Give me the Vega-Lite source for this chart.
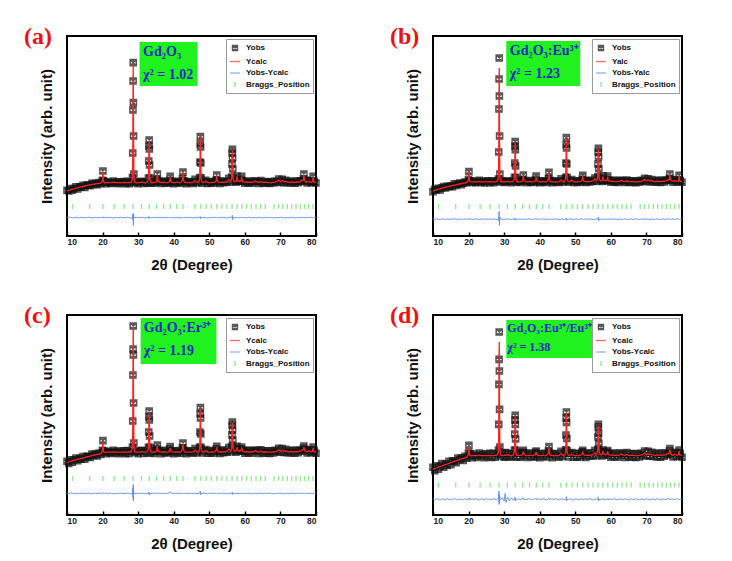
{
"$schema": "https://vega.github.io/schema/vega-lite/v6.json",
"background": "white",
"padding": {"left": 23, "top": 24, "right": 51, "bottom": 5},
"columns": 2,
"bounds": "flush",
"spacing": {"row": 79, "column": 117},
"resolve": {"scale": {"color": "independent", "shape": "independent"}, "legend": {"color": "independent", "shape": "independent"}},
"datasets": {
"bragg": [{"x":11.57},{"x":16.38},{"x":20.1},{"x":23.25},{"x":26.04},{"x":28.57},{"x":30.92},{"x":33.11},{"x":35.19},{"x":37.15},{"x":39.04},{"x":40.85},{"x":42.6},{"x":45.93},{"x":47.53},{"x":49.09},{"x":50.61},{"x":52.1},{"x":53.55},{"x":54.98},{"x":56.4},{"x":57.78},{"x":59.15},{"x":60.49},{"x":61.82},{"x":63.13},{"x":64.42},{"x":65.7},{"x":68.23},{"x":69.47},{"x":70.71},{"x":71.94},{"x":73.16},{"x":74.37},{"x":75.57},{"x":76.77},{"x":77.96},{"x":79.15}],
"a": [
{"x":10,"obs":22.9,"calc":22.5,"diff":9.3},{"x":10.5,"obs":22.5,"calc":22.8,"diff":9.1},{"x":11,"obs":23.7,"calc":23.1,"diff":9.4},{"x":11.5,"obs":22.9,"calc":23.4,"diff":9.2},{"x":12,"obs":23.7,"calc":23.6,"diff":9.0},{"x":12.5,"obs":24.6,"calc":23.9,"diff":9.3},{"x":13,"obs":23.5,"calc":24.1,"diff":9.2},{"x":13.5,"obs":24.6,"calc":24.4,"diff":9.1},{"x":14,"obs":24.4,"calc":24.6,"diff":9.4},{"x":14.5,"obs":25.3,"calc":24.8,"diff":9.1},{"x":15,"obs":24.3,"calc":25.0,"diff":9.3},{"x":15.5,"obs":25.5,"calc":25.2,"diff":9.1},{"x":16,"obs":25.4,"calc":25.4,"diff":9.4},{"x":16.5,"obs":25.2,"calc":25.6,"diff":9.2},{"x":17,"obs":26.4,"calc":25.8,"diff":9.0},{"x":17.5,"obs":25.8,"calc":25.9,"diff":9.3},{"x":18,"obs":26.4,"calc":26.1,"diff":9.2},{"x":18.5,"obs":25.6,"calc":26.2,"diff":9.1},{"x":19,"obs":26.7,"calc":26.3,"diff":9.4},{"x":19.5,"obs":26.2,"calc":26.4,"diff":9.1},
{"x":19.95,"obs":27.8,"calc":27.5,"diff":9.3},{"x":20.1,"obs":32.5,"calc":32.0,"diff":9.6},{"x":20.25,"obs":27.6,"calc":27.3,"diff":9.0},{"x":20.5,"obs":27.2,"calc":26.6,"diff":9.2},{"x":21,"obs":26.2,"calc":26.7,"diff":9.3},{"x":21.5,"obs":27.0,"calc":26.7,"diff":9.1},{"x":22,"obs":26.7,"calc":26.7,"diff":9.4},{"x":22.5,"obs":26.3,"calc":26.7,"diff":9.2},{"x":23,"obs":27.5,"calc":26.9,"diff":9.0},{"x":23.5,"obs":26.6,"calc":26.7,"diff":9.3},{"x":24,"obs":27.0,"calc":26.7,"diff":9.2},{"x":24.5,"obs":26.1,"calc":26.7,"diff":9.1},{"x":25,"obs":27.1,"calc":26.7,"diff":9.4},{"x":25.5,"obs":26.5,"calc":26.7,"diff":9.1},{"x":26,"obs":27.2,"calc":26.8,"diff":9.3},{"x":26.5,"obs":26.1,"calc":26.7,"diff":9.1},{"x":27,"obs":27.3,"calc":26.7,"diff":9.4},{"x":27.5,"obs":26.2,"calc":26.7,"diff":9.2},{"x":28,"obs":26.9,"calc":26.8,"diff":9.0},
{"x":28.4,"obs":29.2,"calc":28.5,"diff":8.8},{"x":28.48,"obs":41.5,"calc":40.0,"diff":10.5},{"x":28.54,"obs":63.0,"calc":62.0,"diff":11.3},{"x":28.58,"obs":77.5,"calc":78.0,"diff":8.0},{"x":28.62,"obs":86.7,"calc":86.5,"diff":9.5},{"x":28.66,"obs":66.7,"calc":70.0,"diff":5.3},{"x":28.72,"obs":50.0,"calc":48.0,"diff":10.8},{"x":28.8,"obs":31.0,"calc":30.0,"diff":9.6},
{"x":29,"obs":26.7,"calc":26.9,"diff":9.1},{"x":29.5,"obs":27.1,"calc":26.7,"diff":9.3},{"x":30,"obs":26.1,"calc":26.7,"diff":9.2},{"x":30.5,"obs":27.0,"calc":26.7,"diff":9.1},{"x":31,"obs":27.4,"calc":27.0,"diff":9.4},{"x":31.5,"obs":26.3,"calc":26.7,"diff":9.2},{"x":32,"obs":27.1,"calc":26.7,"diff":9.0},{"x":32.5,"obs":26.4,"calc":26.8,"diff":9.3},
{"x":32.9,"obs":29.0,"calc":28.5,"diff":9.0},{"x":32.98,"obs":37.5,"calc":36.0,"diff":9.8},{"x":33.05,"obs":45.0,"calc":44.0,"diff":9.6},{"x":33.1,"obs":48.0,"calc":47.5,"diff":9.4},{"x":33.15,"obs":43.5,"calc":44.5,"diff":8.8},{"x":33.22,"obs":35.5,"calc":36.0,"diff":9.0},{"x":33.3,"obs":29.0,"calc":28.5,"diff":9.3},
{"x":33.5,"obs":26.4,"calc":26.9,"diff":9.1},{"x":34,"obs":27.3,"calc":26.7,"diff":9.2},{"x":34.5,"obs":26.4,"calc":26.8,"diff":9.4},{"x":35,"obs":27.1,"calc":26.9,"diff":9.1},{"x":35.25,"obs":28.4,"calc":27.8,"diff":9.3},{"x":35.4,"obs":31.0,"calc":30.8,"diff":9.2},{"x":35.55,"obs":27.3,"calc":27.8,"diff":9.1},{"x":36,"obs":27.2,"calc":26.8,"diff":9.4},{"x":36.5,"obs":26.3,"calc":26.7,"diff":9.1},{"x":37,"obs":27.5,"calc":26.9,"diff":9.3},{"x":37.5,"obs":26.5,"calc":26.8,"diff":9.2},{"x":38,"obs":27.1,"calc":26.7,"diff":9.1},{"x":38.5,"obs":26.4,"calc":26.8,"diff":9.3},{"x":38.85,"obs":27.9,"calc":27.4,"diff":9.2},{"x":39,"obs":29.8,"calc":29.5,"diff":9.4},{"x":39.15,"obs":27.0,"calc":27.4,"diff":9.1},{"x":39.5,"obs":27.3,"calc":26.8,"diff":9.2},{"x":40,"obs":26.1,"calc":26.7,"diff":9.3},{"x":40.5,"obs":27.1,"calc":26.7,"diff":9.1},{"x":41,"obs":26.6,"calc":26.9,"diff":9.4},{"x":41.5,"obs":27.3,"calc":26.7,"diff":9.2},{"x":42,"obs":26.4,"calc":26.8,"diff":9.0},{"x":42.45,"obs":28.6,"calc":28.0,"diff":9.3},{"x":42.6,"obs":32.0,"calc":31.8,"diff":9.4},{"x":42.75,"obs":27.6,"calc":28.0,"diff":9.1},{"x":43,"obs":27.3,"calc":26.9,"diff":9.2},{"x":43.5,"obs":26.2,"calc":26.7,"diff":9.3},{"x":44,"obs":27.2,"calc":26.7,"diff":9.1},{"x":44.5,"obs":26.6,"calc":26.7,"diff":9.4},{"x":45,"obs":27.1,"calc":26.7,"diff":9.2},{"x":45.5,"obs":26.3,"calc":26.8,"diff":9.0},{"x":46,"obs":28.3,"calc":27.8,"diff":9.3},{"x":46.5,"obs":26.6,"calc":26.8,"diff":9.2},{"x":47,"obs":27.3,"calc":26.9,"diff":9.1},
{"x":47.3,"obs":29.2,"calc":28.5,"diff":9.3},{"x":47.38,"obs":37.0,"calc":36.0,"diff":9.6},{"x":47.45,"obs":46.0,"calc":45.0,"diff":9.8},{"x":47.5,"obs":49.7,"calc":49.5,"diff":9.6},{"x":47.55,"obs":44.5,"calc":45.5,"diff":8.7},{"x":47.62,"obs":36.5,"calc":37.0,"diff":9.0},{"x":47.7,"obs":29.0,"calc":28.5,"diff":9.2},
{"x":48,"obs":26.4,"calc":26.9,"diff":9.1},{"x":48.5,"obs":27.3,"calc":26.8,"diff":9.4},{"x":49,"obs":27.8,"calc":27.5,"diff":9.2},{"x":49.5,"obs":26.3,"calc":26.8,"diff":9.0},{"x":50,"obs":27.1,"calc":26.7,"diff":9.3},{"x":50.5,"obs":26.4,"calc":26.7,"diff":9.2},{"x":51,"obs":27.2,"calc":26.8,"diff":9.1},{"x":51.5,"obs":26.5,"calc":26.9,"diff":9.4},{"x":51.95,"obs":28.0,"calc":27.6,"diff":9.2},{"x":52.1,"obs":30.5,"calc":30.3,"diff":9.3},{"x":52.25,"obs":27.3,"calc":27.6,"diff":9.1},{"x":52.5,"obs":27.4,"calc":26.9,"diff":9.2},{"x":53,"obs":26.3,"calc":26.8,"diff":9.3},{"x":53.5,"obs":27.3,"calc":26.9,"diff":9.1},{"x":54,"obs":26.6,"calc":26.8,"diff":9.4},{"x":54.5,"obs":27.5,"calc":27.0,"diff":9.2},{"x":55,"obs":26.9,"calc":27.2,"diff":9.0},{"x":55.5,"obs":28.8,"calc":28.3,"diff":9.3},{"x":56,"obs":27.0,"calc":27.3,"diff":9.2},
{"x":56.3,"obs":29.5,"calc":28.8,"diff":9.4},{"x":56.38,"obs":36.0,"calc":35.0,"diff":9.8},{"x":56.45,"obs":41.5,"calc":40.5,"diff":9.9},{"x":56.5,"obs":43.3,"calc":43.0,"diff":10.3},{"x":56.55,"obs":39.0,"calc":40.0,"diff":8.2},{"x":56.62,"obs":33.5,"calc":34.0,"diff":8.8},{"x":56.7,"obs":28.8,"calc":28.5,"diff":9.2},
{"x":57,"obs":27.7,"calc":27.2,"diff":9.1},{"x":57.5,"obs":26.9,"calc":27.3,"diff":9.3},{"x":57.65,"obs":28.2,"calc":27.8,"diff":9.2},{"x":57.8,"obs":30.0,"calc":29.8,"diff":9.4},{"x":57.95,"obs":27.4,"calc":27.8,"diff":9.1},{"x":58.5,"obs":27.6,"calc":27.2,"diff":9.2},{"x":58.95,"obs":28.1,"calc":27.7,"diff":9.3},{"x":59.1,"obs":29.8,"calc":29.6,"diff":9.4},{"x":59.25,"obs":27.3,"calc":27.7,"diff":9.1},{"x":59.5,"obs":27.5,"calc":27.0,"diff":9.2},{"x":60,"obs":26.4,"calc":26.9,"diff":9.3},{"x":60.5,"obs":27.4,"calc":27.0,"diff":9.1},{"x":61,"obs":26.5,"calc":26.8,"diff":9.4},{"x":61.5,"obs":27.3,"calc":26.9,"diff":9.2},{"x":62,"obs":26.4,"calc":26.8,"diff":9.0},{"x":62.5,"obs":27.5,"calc":27.0,"diff":9.3},{"x":63,"obs":27.2,"calc":27.5,"diff":9.2},{"x":63.5,"obs":27.4,"calc":26.9,"diff":9.1},{"x":64,"obs":26.3,"calc":26.8,"diff":9.4},{"x":64.5,"obs":27.7,"calc":27.3,"diff":9.2},{"x":65,"obs":26.5,"calc":26.8,"diff":9.0},{"x":65.5,"obs":27.2,"calc":26.8,"diff":9.3},{"x":66,"obs":26.4,"calc":26.9,"diff":9.2},{"x":66.5,"obs":27.1,"calc":26.7,"diff":9.1},{"x":67,"obs":26.3,"calc":26.7,"diff":9.4},{"x":67.5,"obs":27.2,"calc":26.7,"diff":9.2},{"x":68,"obs":26.5,"calc":26.8,"diff":9.0},{"x":68.5,"obs":27.4,"calc":26.9,"diff":9.3},{"x":69,"obs":27.0,"calc":27.3,"diff":9.2},{"x":69.5,"obs":28.5,"calc":28.0,"diff":9.1},{"x":70,"obs":26.8,"calc":27.2,"diff":9.4},{"x":70.5,"obs":28.3,"calc":27.8,"diff":9.2},{"x":71,"obs":26.7,"calc":27.1,"diff":9.0},{"x":71.5,"obs":27.9,"calc":27.4,"diff":9.3},{"x":72,"obs":26.6,"calc":26.9,"diff":9.2},{"x":72.5,"obs":27.3,"calc":26.8,"diff":9.1},{"x":73,"obs":26.5,"calc":27.0,"diff":9.4},{"x":73.5,"obs":27.4,"calc":26.9,"diff":9.2},{"x":74,"obs":26.4,"calc":26.8,"diff":9.0},{"x":74.5,"obs":27.5,"calc":27.0,"diff":9.3},{"x":75,"obs":26.6,"calc":26.9,"diff":9.2},{"x":75.5,"obs":27.6,"calc":27.2,"diff":9.1},{"x":76,"obs":27.3,"calc":27.8,"diff":9.4},{"x":76.45,"obs":28.5,"calc":28.0,"diff":9.2},{"x":76.6,"obs":31.0,"calc":30.5,"diff":9.3},{"x":76.75,"obs":27.6,"calc":28.0,"diff":9.1},{"x":77,"obs":27.7,"calc":27.2,"diff":9.2},{"x":77.5,"obs":26.5,"calc":26.9,"diff":9.3},{"x":78,"obs":27.8,"calc":27.4,"diff":9.1},{"x":78.5,"obs":26.6,"calc":26.9,"diff":9.4},{"x":79,"obs":27.5,"calc":27.1,"diff":9.2},{"x":79.2,"obs":29.9,"calc":29.5,"diff":9.3},{"x":79.35,"obs":26.9,"calc":27.3,"diff":9.1},{"x":79.5,"obs":27.3,"calc":26.9,"diff":9.2},{"x":80,"obs":26.5,"calc":26.8,"diff":9.3}
],
"b": [
{"x":10,"obs":22.2,"calc":22.5,"diff":8.5},{"x":10.5,"obs":23.3,"calc":22.8,"diff":8.3},{"x":11,"obs":23.0,"calc":23.1,"diff":8.6},{"x":11.5,"obs":23.8,"calc":23.4,"diff":8.4},{"x":12,"obs":23.0,"calc":23.6,"diff":8.2},{"x":12.5,"obs":24.1,"calc":23.9,"diff":8.5},{"x":13,"obs":24.7,"calc":24.1,"diff":8.4},{"x":13.5,"obs":24.0,"calc":24.4,"diff":8.3},{"x":14,"obs":24.9,"calc":24.6,"diff":8.6},{"x":14.5,"obs":24.6,"calc":24.8,"diff":8.3},{"x":15,"obs":25.1,"calc":25.0,"diff":8.5},{"x":15.5,"obs":24.7,"calc":25.2,"diff":8.3},{"x":16,"obs":26.1,"calc":25.4,"diff":8.6},{"x":16.5,"obs":25.3,"calc":25.6,"diff":8.4},{"x":17,"obs":26.0,"calc":25.8,"diff":8.2},{"x":17.5,"obs":26.5,"calc":26.0,"diff":8.5},{"x":18,"obs":25.6,"calc":26.2,"diff":8.4},{"x":18.5,"obs":26.4,"calc":26.4,"diff":8.3},{"x":19,"obs":27.0,"calc":26.6,"diff":8.6},{"x":19.5,"obs":26.7,"calc":26.8,"diff":8.3},
{"x":19.95,"obs":28.1,"calc":27.9,"diff":8.5},{"x":20.1,"obs":32.2,"calc":31.8,"diff":8.8},{"x":20.25,"obs":27.5,"calc":27.7,"diff":8.2},{"x":20.5,"obs":27.6,"calc":27.1,"diff":8.4},{"x":21,"obs":26.8,"calc":27.1,"diff":8.5},{"x":21.5,"obs":27.5,"calc":27.1,"diff":8.3},{"x":22,"obs":26.6,"calc":27.1,"diff":8.6},{"x":22.5,"obs":27.2,"calc":27.1,"diff":8.4},{"x":23,"obs":27.8,"calc":27.3,"diff":8.2},{"x":23.5,"obs":26.8,"calc":27.1,"diff":8.5},{"x":24,"obs":27.4,"calc":27.1,"diff":8.4},{"x":24.5,"obs":26.5,"calc":27.1,"diff":8.3},{"x":25,"obs":27.3,"calc":27.1,"diff":8.6},{"x":25.5,"obs":27.6,"calc":27.1,"diff":8.3},{"x":26,"obs":26.7,"calc":27.2,"diff":8.5},{"x":26.5,"obs":27.5,"calc":27.1,"diff":8.3},{"x":27,"obs":26.6,"calc":27.1,"diff":8.6},{"x":27.5,"obs":27.3,"calc":27.1,"diff":8.4},{"x":28,"obs":27.6,"calc":27.2,"diff":8.2},
{"x":28.4,"obs":28.5,"calc":29.0,"diff":7.8},{"x":28.48,"obs":42.0,"calc":40.0,"diff":10.2},{"x":28.54,"obs":63.5,"calc":60.0,"diff":11.0},{"x":28.58,"obs":78.5,"calc":77.0,"diff":12.3},{"x":28.62,"obs":89.0,"calc":84.0,"diff":11.5},{"x":28.66,"obs":70.0,"calc":68.0,"diff":5.3},{"x":28.72,"obs":50.0,"calc":47.0,"diff":7.0},{"x":28.8,"obs":31.0,"calc":30.0,"diff":9.4},
{"x":29,"obs":27.0,"calc":27.3,"diff":8.6},{"x":29.5,"obs":27.6,"calc":27.1,"diff":8.3},{"x":30,"obs":26.8,"calc":27.1,"diff":8.5},{"x":30.5,"obs":27.4,"calc":27.1,"diff":8.3},{"x":31,"obs":27.1,"calc":27.4,"diff":8.6},{"x":31.5,"obs":27.5,"calc":27.1,"diff":8.4},{"x":32,"obs":26.7,"calc":27.1,"diff":8.2},{"x":32.5,"obs":27.6,"calc":27.2,"diff":8.5},
{"x":32.9,"obs":29.3,"calc":28.8,"diff":8.3},{"x":32.98,"obs":36.5,"calc":35.5,"diff":8.9},{"x":33.05,"obs":44.8,"calc":43.5,"diff":9.0},{"x":33.1,"obs":47.2,"calc":46.8,"diff":8.7},{"x":33.15,"obs":43.2,"calc":44.0,"diff":7.9},{"x":33.22,"obs":35.0,"calc":35.5,"diff":8.1},{"x":33.3,"obs":29.2,"calc":28.8,"diff":8.5},
{"x":33.5,"obs":26.9,"calc":27.3,"diff":8.3},{"x":34,"obs":27.5,"calc":27.1,"diff":8.5},{"x":34.5,"obs":26.8,"calc":27.2,"diff":8.4},{"x":35,"obs":27.7,"calc":27.3,"diff":8.2},{"x":35.25,"obs":28.3,"calc":28.0,"diff":8.5},{"x":35.4,"obs":30.5,"calc":30.0,"diff":8.6},{"x":35.55,"obs":27.6,"calc":28.0,"diff":8.3},{"x":36,"obs":27.5,"calc":27.2,"diff":8.5},{"x":36.5,"obs":26.7,"calc":27.1,"diff":8.3},{"x":37,"obs":27.7,"calc":27.3,"diff":8.6},{"x":37.5,"obs":26.9,"calc":27.2,"diff":8.4},{"x":38,"obs":27.5,"calc":27.1,"diff":8.2},{"x":38.5,"obs":26.8,"calc":27.2,"diff":8.5},{"x":38.85,"obs":28.2,"calc":27.8,"diff":8.4},{"x":39,"obs":30.0,"calc":29.5,"diff":8.7},{"x":39.15,"obs":27.4,"calc":27.8,"diff":8.2},{"x":39.5,"obs":27.6,"calc":27.2,"diff":8.4},{"x":40,"obs":26.7,"calc":27.1,"diff":8.5},{"x":40.5,"obs":27.5,"calc":27.1,"diff":8.3},{"x":41,"obs":26.9,"calc":27.3,"diff":8.6},{"x":41.5,"obs":27.6,"calc":27.1,"diff":8.4},{"x":42,"obs":26.8,"calc":27.2,"diff":8.2},{"x":42.45,"obs":28.7,"calc":28.3,"diff":8.5},{"x":42.6,"obs":31.8,"calc":31.5,"diff":8.7},{"x":42.75,"obs":27.9,"calc":28.3,"diff":8.2},{"x":43,"obs":27.7,"calc":27.3,"diff":8.4},{"x":43.5,"obs":26.6,"calc":27.1,"diff":8.5},{"x":44,"obs":27.5,"calc":27.1,"diff":8.3},{"x":44.5,"obs":27.0,"calc":27.1,"diff":8.6},{"x":45,"obs":27.5,"calc":27.1,"diff":8.4},{"x":45.5,"obs":26.8,"calc":27.2,"diff":8.2},{"x":46,"obs":28.6,"calc":28.1,"diff":8.5},{"x":46.5,"obs":27.0,"calc":27.2,"diff":8.4},{"x":47,"obs":27.7,"calc":27.3,"diff":8.3},
{"x":47.3,"obs":29.4,"calc":28.8,"diff":8.6},{"x":47.38,"obs":36.5,"calc":35.5,"diff":8.8},{"x":47.45,"obs":45.6,"calc":44.5,"diff":9.0},{"x":47.5,"obs":49.2,"calc":48.8,"diff":8.9},{"x":47.55,"obs":44.0,"calc":45.0,"diff":7.9},{"x":47.62,"obs":36.0,"calc":36.5,"diff":8.2},{"x":47.7,"obs":29.2,"calc":28.8,"diff":8.4},
{"x":48,"obs":26.9,"calc":27.3,"diff":8.3},{"x":48.5,"obs":27.6,"calc":27.2,"diff":8.6},{"x":49,"obs":28.2,"calc":27.9,"diff":8.4},{"x":49.5,"obs":26.8,"calc":27.2,"diff":8.2},{"x":50,"obs":27.5,"calc":27.1,"diff":8.5},{"x":50.5,"obs":26.8,"calc":27.1,"diff":8.4},{"x":51,"obs":27.6,"calc":27.2,"diff":8.3},{"x":51.5,"obs":26.9,"calc":27.3,"diff":8.6},{"x":51.95,"obs":28.3,"calc":27.9,"diff":8.4},{"x":52.1,"obs":30.4,"calc":30.0,"diff":8.5},{"x":52.25,"obs":27.6,"calc":27.9,"diff":8.3},{"x":52.5,"obs":27.7,"calc":27.3,"diff":8.4},{"x":53,"obs":26.8,"calc":27.2,"diff":8.5},{"x":53.5,"obs":27.7,"calc":27.3,"diff":8.3},{"x":54,"obs":27.0,"calc":27.2,"diff":8.6},{"x":54.5,"obs":27.8,"calc":27.4,"diff":8.4},{"x":55,"obs":27.3,"calc":27.6,"diff":8.2},{"x":55.5,"obs":29.0,"calc":28.6,"diff":8.5},{"x":56,"obs":27.4,"calc":27.7,"diff":8.4},
{"x":56.3,"obs":29.6,"calc":29.0,"diff":8.6},{"x":56.38,"obs":36.0,"calc":35.0,"diff":9.0},{"x":56.45,"obs":42.0,"calc":41.0,"diff":9.2},{"x":56.5,"obs":43.8,"calc":43.5,"diff":9.4},{"x":56.55,"obs":39.5,"calc":40.5,"diff":7.6},{"x":56.62,"obs":33.6,"calc":34.0,"diff":7.9},{"x":56.7,"obs":29.1,"calc":28.8,"diff":8.4},
{"x":57,"obs":28.0,"calc":27.6,"diff":8.3},{"x":57.5,"obs":27.3,"calc":27.6,"diff":8.5},{"x":57.65,"obs":28.5,"calc":28.1,"diff":8.4},{"x":57.8,"obs":30.1,"calc":29.8,"diff":8.6},{"x":57.95,"obs":27.7,"calc":28.1,"diff":8.3},{"x":58.5,"obs":27.9,"calc":27.5,"diff":8.4},{"x":58.95,"obs":28.4,"calc":28.0,"diff":8.5},{"x":59.1,"obs":30.0,"calc":29.6,"diff":8.6},{"x":59.25,"obs":27.6,"calc":28.0,"diff":8.3},{"x":59.5,"obs":27.8,"calc":27.4,"diff":8.4},{"x":60,"obs":26.9,"calc":27.3,"diff":8.5},{"x":60.5,"obs":27.8,"calc":27.4,"diff":8.3},{"x":61,"obs":26.9,"calc":27.2,"diff":8.6},{"x":61.5,"obs":27.7,"calc":27.3,"diff":8.4},{"x":62,"obs":26.8,"calc":27.2,"diff":8.2},{"x":62.5,"obs":27.8,"calc":27.4,"diff":8.5},{"x":63,"obs":27.5,"calc":27.8,"diff":8.4},{"x":63.5,"obs":27.7,"calc":27.3,"diff":8.3},{"x":64,"obs":26.8,"calc":27.2,"diff":8.6},{"x":64.5,"obs":28.0,"calc":27.6,"diff":8.4},{"x":65,"obs":26.9,"calc":27.2,"diff":8.2},{"x":65.5,"obs":27.6,"calc":27.2,"diff":8.5},{"x":66,"obs":26.8,"calc":27.3,"diff":8.4},{"x":66.5,"obs":27.5,"calc":27.1,"diff":8.3},{"x":67,"obs":26.7,"calc":27.1,"diff":8.6},{"x":67.5,"obs":27.6,"calc":27.1,"diff":8.4},{"x":68,"obs":26.9,"calc":27.2,"diff":8.2},{"x":68.5,"obs":27.8,"calc":27.3,"diff":8.5},{"x":69,"obs":27.4,"calc":27.7,"diff":8.4},{"x":69.5,"obs":28.8,"calc":28.3,"diff":8.3},{"x":70,"obs":27.2,"calc":27.6,"diff":8.6},{"x":70.5,"obs":28.6,"calc":28.1,"diff":8.4},{"x":71,"obs":27.1,"calc":27.5,"diff":8.2},{"x":71.5,"obs":28.2,"calc":27.8,"diff":8.5},{"x":72,"obs":27.0,"calc":27.3,"diff":8.4},{"x":72.5,"obs":27.7,"calc":27.2,"diff":8.3},{"x":73,"obs":26.9,"calc":27.4,"diff":8.6},{"x":73.5,"obs":27.8,"calc":27.3,"diff":8.4},{"x":74,"obs":26.8,"calc":27.2,"diff":8.2},{"x":74.5,"obs":27.9,"calc":27.4,"diff":8.5},{"x":75,"obs":27.0,"calc":27.3,"diff":8.4},{"x":75.5,"obs":28.0,"calc":27.6,"diff":8.3},{"x":76,"obs":27.7,"calc":28.1,"diff":8.6},{"x":76.45,"obs":28.8,"calc":28.3,"diff":8.4},{"x":76.6,"obs":31.0,"calc":30.6,"diff":8.6},{"x":76.75,"obs":27.9,"calc":28.3,"diff":8.3},{"x":77,"obs":28.0,"calc":27.6,"diff":8.4},{"x":77.5,"obs":26.9,"calc":27.3,"diff":8.5},{"x":78,"obs":28.2,"calc":27.8,"diff":8.3},{"x":78.5,"obs":27.0,"calc":27.3,"diff":8.6},{"x":79,"obs":27.9,"calc":27.5,"diff":8.4},{"x":79.2,"obs":30.3,"calc":30.0,"diff":8.5},{"x":79.35,"obs":27.3,"calc":27.7,"diff":8.3},{"x":79.5,"obs":27.7,"calc":27.3,"diff":8.4},{"x":80,"obs":26.9,"calc":27.2,"diff":8.5}
],
"c": [
{"x":10,"obs":26.9,"calc":26.2,"diff":10.9},{"x":10.5,"obs":25.8,"calc":26.5,"diff":10.7},{"x":11,"obs":27.6,"calc":26.8,"diff":11.0},{"x":11.5,"obs":26.4,"calc":27.1,"diff":10.8},{"x":12,"obs":27.6,"calc":27.4,"diff":10.6},{"x":12.5,"obs":28.5,"calc":27.6,"diff":10.9},{"x":13,"obs":27.1,"calc":27.9,"diff":10.8},{"x":13.5,"obs":28.4,"calc":28.1,"diff":10.7},{"x":14,"obs":27.9,"calc":28.3,"diff":11.0},{"x":14.5,"obs":29.2,"calc":28.5,"diff":10.7},{"x":15,"obs":27.9,"calc":28.7,"diff":10.9},{"x":15.5,"obs":29.4,"calc":29.0,"diff":10.7},{"x":16,"obs":29.2,"calc":29.2,"diff":11.0},{"x":16.5,"obs":28.8,"calc":29.4,"diff":10.8},{"x":17,"obs":30.5,"calc":29.7,"diff":10.6},{"x":17.5,"obs":29.8,"calc":29.9,"diff":10.9},{"x":18,"obs":30.5,"calc":30.1,"diff":10.8},{"x":18.5,"obs":29.5,"calc":30.3,"diff":10.7},{"x":19,"obs":31.0,"calc":30.5,"diff":11.0},{"x":19.5,"obs":30.3,"calc":30.6,"diff":10.7},
{"x":19.95,"obs":32.4,"calc":31.9,"diff":10.9},{"x":20.1,"obs":37.2,"calc":36.5,"diff":11.2},{"x":20.25,"obs":31.5,"calc":31.8,"diff":10.6},{"x":20.5,"obs":32.0,"calc":31.3,"diff":10.8},{"x":21,"obs":30.7,"calc":31.4,"diff":10.9},{"x":21.5,"obs":31.9,"calc":31.4,"diff":10.7},{"x":22,"obs":31.3,"calc":31.4,"diff":11.0},{"x":22.5,"obs":30.8,"calc":31.4,"diff":10.8},{"x":23,"obs":32.4,"calc":31.6,"diff":10.6},{"x":23.5,"obs":31.2,"calc":31.4,"diff":10.9},{"x":24,"obs":31.9,"calc":31.4,"diff":10.8},{"x":24.5,"obs":30.6,"calc":31.4,"diff":10.7},{"x":25,"obs":32.0,"calc":31.4,"diff":11.0},{"x":25.5,"obs":31.1,"calc":31.4,"diff":10.7},{"x":26,"obs":32.1,"calc":31.5,"diff":10.9},{"x":26.5,"obs":30.7,"calc":31.4,"diff":10.7},{"x":27,"obs":32.2,"calc":31.4,"diff":11.0},{"x":27.5,"obs":30.8,"calc":31.5,"diff":10.8},{"x":28,"obs":31.9,"calc":31.6,"diff":10.6},
{"x":28.4,"obs":34.0,"calc":33.5,"diff":10.4},{"x":28.48,"obs":47.0,"calc":45.0,"diff":12.2},{"x":28.54,"obs":70.0,"calc":68.0,"diff":13.5},{"x":28.58,"obs":83.0,"calc":85.0,"diff":8.6},{"x":28.62,"obs":94.5,"calc":94.0,"diff":15.3},{"x":28.66,"obs":80.0,"calc":77.0,"diff":7.0},{"x":28.72,"obs":56.0,"calc":54.0,"diff":12.0},{"x":28.8,"obs":36.0,"calc":35.0,"diff":11.2},
{"x":29,"obs":31.3,"calc":31.6,"diff":10.7},{"x":29.5,"obs":32.0,"calc":31.4,"diff":10.9},{"x":30,"obs":30.6,"calc":31.4,"diff":10.8},{"x":30.5,"obs":32.0,"calc":31.4,"diff":10.7},{"x":31,"obs":32.3,"calc":31.7,"diff":11.0},{"x":31.5,"obs":30.8,"calc":31.4,"diff":10.8},{"x":32,"obs":32.1,"calc":31.4,"diff":10.6},{"x":32.5,"obs":31.0,"calc":31.6,"diff":10.9},
{"x":32.9,"obs":33.9,"calc":33.2,"diff":10.6},{"x":32.98,"obs":41.5,"calc":40.0,"diff":11.5},{"x":33.05,"obs":49.0,"calc":48.0,"diff":11.3},{"x":33.1,"obs":52.0,"calc":51.0,"diff":11.4},{"x":33.15,"obs":47.5,"calc":48.5,"diff":10.1},{"x":33.22,"obs":39.5,"calc":40.0,"diff":10.4},{"x":33.3,"obs":33.8,"calc":33.2,"diff":10.9},
{"x":33.5,"obs":31.0,"calc":31.6,"diff":10.7},{"x":34,"obs":32.2,"calc":31.4,"diff":10.8},{"x":34.5,"obs":30.8,"calc":31.5,"diff":11.0},{"x":35,"obs":32.0,"calc":31.6,"diff":10.7},{"x":35.25,"obs":33.2,"calc":32.4,"diff":10.9},{"x":35.4,"obs":35.0,"calc":34.5,"diff":11.0},{"x":35.55,"obs":31.8,"calc":32.4,"diff":10.7},{"x":36,"obs":32.1,"calc":31.5,"diff":11.0},{"x":36.5,"obs":30.7,"calc":31.4,"diff":10.7},{"x":37,"obs":32.4,"calc":31.6,"diff":10.9},{"x":37.5,"obs":31.1,"calc":31.5,"diff":10.8},{"x":38,"obs":32.0,"calc":31.4,"diff":10.7},{"x":38.5,"obs":31.0,"calc":31.6,"diff":10.9},{"x":38.85,"obs":33.0,"calc":32.2,"diff":11.2},{"x":39,"obs":34.2,"calc":33.5,"diff":11.6},{"x":39.15,"obs":31.7,"calc":32.2,"diff":11.0},{"x":39.5,"obs":32.1,"calc":31.5,"diff":10.8},{"x":40,"obs":30.6,"calc":31.4,"diff":10.9},{"x":40.5,"obs":32.0,"calc":31.4,"diff":10.7},{"x":41,"obs":31.2,"calc":31.6,"diff":11.0},{"x":41.5,"obs":32.2,"calc":31.4,"diff":10.8},{"x":42,"obs":30.9,"calc":31.5,"diff":10.6},{"x":42.45,"obs":33.6,"calc":32.8,"diff":10.9},{"x":42.6,"obs":36.0,"calc":35.5,"diff":11.0},{"x":42.75,"obs":32.3,"calc":32.8,"diff":10.7},{"x":43,"obs":32.2,"calc":31.6,"diff":10.8},{"x":43.5,"obs":30.7,"calc":31.4,"diff":10.9},{"x":44,"obs":32.0,"calc":31.4,"diff":10.7},{"x":44.5,"obs":31.3,"calc":31.4,"diff":11.0},{"x":45,"obs":32.1,"calc":31.4,"diff":10.8},{"x":45.5,"obs":30.9,"calc":31.5,"diff":10.6},{"x":46,"obs":33.2,"calc":32.5,"diff":10.9},{"x":46.5,"obs":31.2,"calc":31.5,"diff":10.8},{"x":47,"obs":32.3,"calc":31.6,"diff":10.7},
{"x":47.3,"obs":34.0,"calc":33.2,"diff":11.0},{"x":47.38,"obs":41.5,"calc":40.5,"diff":11.5},{"x":47.45,"obs":50.5,"calc":49.0,"diff":11.8},{"x":47.5,"obs":53.7,"calc":53.0,"diff":11.9},{"x":47.55,"obs":48.5,"calc":49.5,"diff":10.1},{"x":47.62,"obs":40.5,"calc":41.0,"diff":10.4},{"x":47.7,"obs":33.7,"calc":33.2,"diff":10.8},
{"x":48,"obs":31.0,"calc":31.6,"diff":10.7},{"x":48.5,"obs":32.2,"calc":31.5,"diff":11.0},{"x":49,"obs":32.7,"calc":32.2,"diff":10.8},{"x":49.5,"obs":30.9,"calc":31.5,"diff":10.6},{"x":50,"obs":32.0,"calc":31.4,"diff":10.9},{"x":50.5,"obs":30.9,"calc":31.4,"diff":10.8},{"x":51,"obs":32.2,"calc":31.5,"diff":10.7},{"x":51.5,"obs":31.0,"calc":31.6,"diff":11.0},{"x":51.95,"obs":33.0,"calc":32.4,"diff":10.8},{"x":52.1,"obs":34.4,"calc":34.0,"diff":10.9},{"x":52.25,"obs":31.9,"calc":32.4,"diff":10.7},{"x":52.5,"obs":32.3,"calc":31.6,"diff":10.8},{"x":53,"obs":30.8,"calc":31.5,"diff":10.9},{"x":53.5,"obs":32.3,"calc":31.6,"diff":10.7},{"x":54,"obs":31.2,"calc":31.5,"diff":11.0},{"x":54.5,"obs":32.4,"calc":31.7,"diff":10.8},{"x":55,"obs":31.4,"calc":31.9,"diff":10.6},{"x":55.5,"obs":33.7,"calc":33.0,"diff":10.9},{"x":56,"obs":31.6,"calc":32.0,"diff":10.8},
{"x":56.3,"obs":34.3,"calc":33.5,"diff":11.0},{"x":56.38,"obs":40.0,"calc":39.0,"diff":11.3},{"x":56.45,"obs":45.0,"calc":44.0,"diff":11.2},{"x":56.5,"obs":46.5,"calc":46.0,"diff":11.4},{"x":56.55,"obs":42.5,"calc":43.5,"diff":10.2},{"x":56.62,"obs":37.5,"calc":38.0,"diff":10.4},{"x":56.7,"obs":33.6,"calc":33.2,"diff":10.8},
{"x":57,"obs":32.6,"calc":31.9,"diff":10.7},{"x":57.5,"obs":31.4,"calc":31.9,"diff":10.9},{"x":57.65,"obs":33.1,"calc":32.5,"diff":10.8},{"x":57.8,"obs":34.3,"calc":34.0,"diff":11.0},{"x":57.95,"obs":32.0,"calc":32.5,"diff":10.7},{"x":58.5,"obs":32.4,"calc":31.8,"diff":10.8},{"x":58.95,"obs":33.0,"calc":32.4,"diff":10.9},{"x":59.1,"obs":34.0,"calc":33.8,"diff":11.0},{"x":59.25,"obs":31.9,"calc":32.4,"diff":10.7},{"x":59.5,"obs":32.3,"calc":31.7,"diff":10.8},{"x":60,"obs":30.9,"calc":31.6,"diff":10.9},{"x":60.5,"obs":32.3,"calc":31.7,"diff":10.7},{"x":61,"obs":31.0,"calc":31.5,"diff":11.0},{"x":61.5,"obs":32.2,"calc":31.6,"diff":10.8},{"x":62,"obs":30.9,"calc":31.5,"diff":10.6},{"x":62.5,"obs":32.4,"calc":31.7,"diff":10.9},{"x":63,"obs":31.8,"calc":32.2,"diff":10.8},{"x":63.5,"obs":32.3,"calc":31.6,"diff":10.7},{"x":64,"obs":30.8,"calc":31.5,"diff":11.0},{"x":64.5,"obs":32.6,"calc":32.0,"diff":10.8},{"x":65,"obs":31.0,"calc":31.5,"diff":10.6},{"x":65.5,"obs":32.1,"calc":31.5,"diff":10.9},{"x":66,"obs":30.9,"calc":31.6,"diff":10.8},{"x":66.5,"obs":32.0,"calc":31.4,"diff":10.7},{"x":67,"obs":30.8,"calc":31.4,"diff":11.0},{"x":67.5,"obs":32.1,"calc":31.4,"diff":10.8},{"x":68,"obs":31.0,"calc":31.5,"diff":10.6},{"x":68.5,"obs":32.3,"calc":31.6,"diff":10.9},{"x":69,"obs":31.6,"calc":32.0,"diff":10.8},{"x":69.5,"obs":33.4,"calc":32.7,"diff":10.7},{"x":70,"obs":31.4,"calc":31.9,"diff":11.0},{"x":70.5,"obs":33.2,"calc":32.5,"diff":10.8},{"x":71,"obs":31.3,"calc":31.8,"diff":10.6},{"x":71.5,"obs":32.8,"calc":32.1,"diff":10.9},{"x":72,"obs":31.2,"calc":31.6,"diff":10.8},{"x":72.5,"obs":32.2,"calc":31.5,"diff":10.7},{"x":73,"obs":31.0,"calc":31.7,"diff":11.0},{"x":73.5,"obs":32.3,"calc":31.6,"diff":10.8},{"x":74,"obs":30.9,"calc":31.5,"diff":10.6},{"x":74.5,"obs":32.4,"calc":31.7,"diff":10.9},{"x":75,"obs":31.2,"calc":31.6,"diff":10.8},{"x":75.5,"obs":32.5,"calc":31.9,"diff":10.7},{"x":76,"obs":32.0,"calc":32.5,"diff":11.0},{"x":76.45,"obs":33.4,"calc":32.7,"diff":10.8},{"x":76.6,"obs":34.5,"calc":34.0,"diff":11.0},{"x":76.75,"obs":32.2,"calc":32.7,"diff":10.7},{"x":77,"obs":32.6,"calc":31.9,"diff":10.8},{"x":77.5,"obs":31.0,"calc":31.6,"diff":10.9},{"x":78,"obs":32.7,"calc":32.1,"diff":10.7},{"x":78.5,"obs":31.2,"calc":31.6,"diff":11.0},{"x":79,"obs":32.5,"calc":31.8,"diff":10.8},{"x":79.2,"obs":34.0,"calc":33.5,"diff":10.9},{"x":79.35,"obs":31.5,"calc":32.0,"diff":10.7},{"x":79.5,"obs":32.3,"calc":31.6,"diff":10.8},{"x":80,"obs":30.9,"calc":31.5,"diff":10.9}
],
"d": [
{"x":10,"obs":23.9,"calc":22.8,"diff":8.0},{"x":10.5,"obs":22.2,"calc":23.2,"diff":7.6},{"x":11,"obs":24.6,"calc":23.5,"diff":8.2},{"x":11.5,"obs":22.9,"calc":23.9,"diff":7.8},{"x":12,"obs":24.5,"calc":24.2,"diff":7.5},{"x":12.5,"obs":25.7,"calc":24.5,"diff":8.1},{"x":13,"obs":23.9,"calc":24.9,"diff":7.9},{"x":13.5,"obs":25.6,"calc":25.2,"diff":7.6},{"x":14,"obs":24.8,"calc":25.5,"diff":8.2},{"x":14.5,"obs":26.9,"calc":25.8,"diff":7.7},{"x":15,"obs":25.1,"calc":26.2,"diff":8.0},{"x":15.5,"obs":27.1,"calc":26.5,"diff":7.6},{"x":16,"obs":26.9,"calc":26.8,"diff":8.2},{"x":16.5,"obs":26.2,"calc":27.1,"diff":7.9},{"x":17,"obs":28.5,"calc":27.4,"diff":7.5},{"x":17.5,"obs":27.6,"calc":27.7,"diff":8.0},{"x":18,"obs":28.6,"calc":28.0,"diff":7.8},{"x":18.5,"obs":27.3,"calc":28.3,"diff":7.6},{"x":19,"obs":29.3,"calc":28.6,"diff":8.2},{"x":19.5,"obs":28.4,"calc":28.9,"diff":7.7},
{"x":19.95,"obs":31.0,"calc":30.3,"diff":8.1},{"x":20.1,"obs":34.8,"calc":34.0,"diff":8.5},{"x":20.25,"obs":29.6,"calc":30.2,"diff":7.5},{"x":20.5,"obs":30.7,"calc":29.6,"diff":7.9},{"x":21,"obs":28.7,"calc":29.7,"diff":8.0},{"x":21.5,"obs":30.5,"calc":29.7,"diff":7.7},{"x":22,"obs":29.6,"calc":29.7,"diff":8.2},{"x":22.5,"obs":28.8,"calc":29.7,"diff":7.8},{"x":23,"obs":31.0,"calc":29.9,"diff":7.5},{"x":23.5,"obs":29.5,"calc":29.7,"diff":8.0},{"x":24,"obs":30.4,"calc":29.7,"diff":7.9},{"x":24.5,"obs":28.6,"calc":29.7,"diff":7.6},{"x":25,"obs":30.6,"calc":29.7,"diff":8.2},{"x":25.5,"obs":29.2,"calc":29.7,"diff":7.7},{"x":26,"obs":30.8,"calc":29.8,"diff":8.0},{"x":26.5,"obs":28.8,"calc":29.7,"diff":7.6},{"x":27,"obs":30.9,"calc":29.7,"diff":8.2},{"x":27.5,"obs":28.9,"calc":29.8,"diff":7.8},{"x":28,"obs":30.3,"calc":29.9,"diff":7.6},
{"x":28.4,"obs":32.5,"calc":31.5,"diff":8.4},{"x":28.48,"obs":45.3,"calc":42.0,"diff":9.5},{"x":28.54,"obs":65.3,"calc":62.0,"diff":12.0},{"x":28.58,"obs":77.8,"calc":80.0,"diff":5.3},{"x":28.62,"obs":91.5,"calc":86.5,"diff":10.5},{"x":28.66,"obs":72.0,"calc":74.0,"diff":6.0},{"x":28.72,"obs":52.8,"calc":50.0,"diff":9.5},{"x":28.8,"obs":34.0,"calc":33.0,"diff":8.4},
{"x":29,"obs":29.5,"calc":30.0,"diff":7.6},{"x":29.5,"obs":30.8,"calc":29.7,"diff":8.7},{"x":30,"obs":28.9,"calc":29.8,"diff":7.0},{"x":30.3,"obs":31.2,"calc":30.0,"diff":10.8},{"x":30.5,"obs":29.2,"calc":29.8,"diff":6.2},{"x":31,"obs":31.0,"calc":30.1,"diff":8.9},{"x":31.5,"obs":29.0,"calc":29.8,"diff":7.0},{"x":32,"obs":30.6,"calc":29.7,"diff":8.6},{"x":32.5,"obs":29.1,"calc":29.9,"diff":7.5},
{"x":32.9,"obs":32.5,"calc":31.5,"diff":7.6},{"x":32.98,"obs":40.5,"calc":38.5,"diff":8.8},{"x":33.05,"obs":47.5,"calc":46.0,"diff":8.6},{"x":33.1,"obs":49.8,"calc":49.3,"diff":8.8},{"x":33.15,"obs":45.3,"calc":46.5,"diff":7.0},{"x":33.22,"obs":38.0,"calc":38.5,"diff":7.5},{"x":33.3,"obs":32.3,"calc":31.5,"diff":8.0},
{"x":33.5,"obs":29.0,"calc":29.9,"diff":7.7},{"x":34,"obs":30.9,"calc":29.7,"diff":8.1},{"x":34.5,"obs":28.9,"calc":29.8,"diff":7.8},{"x":35,"obs":30.8,"calc":29.9,"diff":8.0},{"x":35.25,"obs":31.3,"calc":30.5,"diff":8.3},{"x":35.4,"obs":32.3,"calc":31.8,"diff":8.6},{"x":35.55,"obs":29.7,"calc":30.5,"diff":7.6},{"x":36,"obs":30.8,"calc":29.8,"diff":8.0},{"x":36.5,"obs":28.8,"calc":29.7,"diff":7.7},{"x":37,"obs":31.0,"calc":29.9,"diff":8.2},{"x":37.5,"obs":29.3,"calc":29.8,"diff":7.8},{"x":38,"obs":30.6,"calc":29.7,"diff":7.6},{"x":38.5,"obs":28.9,"calc":29.9,"diff":8.1},{"x":38.85,"obs":31.4,"calc":30.4,"diff":8.0},{"x":39,"obs":32.0,"calc":31.5,"diff":8.3},{"x":39.15,"obs":29.7,"calc":30.4,"diff":7.6},{"x":39.5,"obs":30.7,"calc":29.8,"diff":7.9},{"x":40,"obs":28.6,"calc":29.7,"diff":8.0},{"x":40.5,"obs":30.6,"calc":29.7,"diff":7.7},{"x":41,"obs":29.3,"calc":29.9,"diff":8.2},{"x":41.5,"obs":30.8,"calc":29.7,"diff":7.8},{"x":42,"obs":29.0,"calc":29.8,"diff":7.5},{"x":42.45,"obs":32.0,"calc":31.0,"diff":8.0},{"x":42.6,"obs":34.2,"calc":33.8,"diff":8.4},{"x":42.75,"obs":30.3,"calc":31.0,"diff":7.6},{"x":43,"obs":30.8,"calc":29.9,"diff":7.9},{"x":43.5,"obs":28.7,"calc":29.7,"diff":8.0},{"x":44,"obs":30.6,"calc":29.7,"diff":7.7},{"x":44.5,"obs":29.5,"calc":29.7,"diff":8.2},{"x":45,"obs":30.7,"calc":29.7,"diff":7.8},{"x":45.5,"obs":28.9,"calc":29.8,"diff":7.5},{"x":46,"obs":31.8,"calc":30.8,"diff":8.0},{"x":46.5,"obs":29.4,"calc":29.8,"diff":7.9},{"x":47,"obs":30.9,"calc":29.9,"diff":7.6},
{"x":47.3,"obs":32.6,"calc":31.5,"diff":8.2},{"x":47.38,"obs":40.0,"calc":38.5,"diff":8.6},{"x":47.45,"obs":48.5,"calc":47.0,"diff":8.9},{"x":47.5,"obs":51.5,"calc":51.0,"diff":9.2},{"x":47.55,"obs":46.3,"calc":47.5,"diff":7.0},{"x":47.62,"obs":38.3,"calc":39.0,"diff":7.4},{"x":47.7,"obs":32.2,"calc":31.5,"diff":7.9},
{"x":48,"obs":29.0,"calc":29.9,"diff":7.7},{"x":48.5,"obs":30.9,"calc":29.8,"diff":8.1},{"x":49,"obs":31.2,"calc":30.5,"diff":7.8},{"x":49.5,"obs":28.9,"calc":29.8,"diff":7.5},{"x":50,"obs":30.7,"calc":29.7,"diff":8.0},{"x":50.5,"obs":28.9,"calc":29.7,"diff":7.9},{"x":51,"obs":30.9,"calc":29.8,"diff":7.6},{"x":51.5,"obs":29.0,"calc":29.9,"diff":8.2},{"x":51.95,"obs":31.6,"calc":30.6,"diff":7.8},{"x":52.1,"obs":32.3,"calc":31.8,"diff":8.1},{"x":52.25,"obs":29.9,"calc":30.6,"diff":7.6},{"x":52.5,"obs":30.9,"calc":29.9,"diff":7.9},{"x":53,"obs":28.8,"calc":29.8,"diff":8.0},{"x":53.5,"obs":30.9,"calc":29.9,"diff":7.7},{"x":54,"obs":29.4,"calc":29.8,"diff":8.2},{"x":54.5,"obs":31.1,"calc":30.0,"diff":7.8},{"x":55,"obs":29.5,"calc":30.2,"diff":7.5},{"x":55.5,"obs":32.2,"calc":31.2,"diff":8.0},{"x":56,"obs":29.7,"calc":30.3,"diff":7.9},
{"x":56.3,"obs":32.9,"calc":31.8,"diff":8.3},{"x":56.38,"obs":39.0,"calc":37.5,"diff":8.6},{"x":56.45,"obs":44.0,"calc":42.5,"diff":8.8},{"x":56.5,"obs":45.3,"calc":44.8,"diff":8.5},{"x":56.55,"obs":40.8,"calc":42.0,"diff":7.0},{"x":56.62,"obs":35.8,"calc":36.5,"diff":7.3},{"x":56.7,"obs":32.0,"calc":31.5,"diff":7.9},
{"x":57,"obs":31.1,"calc":30.2,"diff":7.7},{"x":57.5,"obs":29.5,"calc":30.2,"diff":8.0},{"x":57.65,"obs":31.6,"calc":30.7,"diff":7.9},{"x":57.8,"obs":32.5,"calc":32.0,"diff":8.2},{"x":57.95,"obs":30.0,"calc":30.7,"diff":7.6},{"x":58.5,"obs":31.0,"calc":30.1,"diff":7.9},{"x":58.95,"obs":31.5,"calc":30.6,"diff":8.0},{"x":59.1,"obs":32.2,"calc":31.8,"diff":8.1},{"x":59.25,"obs":29.9,"calc":30.6,"diff":7.6},{"x":59.5,"obs":30.9,"calc":30.0,"diff":7.9},{"x":60,"obs":28.9,"calc":29.9,"diff":8.0},{"x":60.5,"obs":30.9,"calc":30.0,"diff":7.7},{"x":61,"obs":29.1,"calc":29.8,"diff":8.2},{"x":61.5,"obs":30.8,"calc":29.9,"diff":7.8},{"x":62,"obs":28.9,"calc":29.8,"diff":7.5},{"x":62.5,"obs":31.0,"calc":30.0,"diff":8.0},{"x":63,"obs":29.9,"calc":30.5,"diff":7.9},{"x":63.5,"obs":30.9,"calc":29.9,"diff":7.6},{"x":64,"obs":28.8,"calc":29.8,"diff":8.2},{"x":64.5,"obs":31.2,"calc":30.3,"diff":7.8},{"x":65,"obs":29.1,"calc":29.8,"diff":7.5},{"x":65.5,"obs":30.7,"calc":29.8,"diff":8.0},{"x":66,"obs":28.9,"calc":29.9,"diff":7.9},{"x":66.5,"obs":30.6,"calc":29.7,"diff":7.6},{"x":67,"obs":28.8,"calc":29.7,"diff":8.2},{"x":67.5,"obs":30.7,"calc":29.7,"diff":7.8},{"x":68,"obs":29.0,"calc":29.8,"diff":7.5},{"x":68.5,"obs":30.9,"calc":29.9,"diff":8.0},{"x":69,"obs":29.8,"calc":30.3,"diff":7.9},{"x":69.5,"obs":32.0,"calc":31.0,"diff":7.6},{"x":70,"obs":29.5,"calc":30.2,"diff":8.2},{"x":70.5,"obs":31.8,"calc":30.8,"diff":7.8},{"x":71,"obs":29.4,"calc":30.1,"diff":7.5},{"x":71.5,"obs":31.4,"calc":30.4,"diff":8.0},{"x":72,"obs":29.3,"calc":29.9,"diff":7.9},{"x":72.5,"obs":30.8,"calc":29.8,"diff":7.6},{"x":73,"obs":29.0,"calc":30.0,"diff":8.2},{"x":73.5,"obs":30.9,"calc":29.9,"diff":7.8},{"x":74,"obs":28.9,"calc":29.8,"diff":7.5},{"x":74.5,"obs":31.0,"calc":30.0,"diff":8.0},{"x":75,"obs":29.4,"calc":29.9,"diff":7.9},{"x":75.5,"obs":31.0,"calc":30.2,"diff":7.6},{"x":76,"obs":30.2,"calc":30.8,"diff":8.2},{"x":76.45,"obs":32.0,"calc":31.0,"diff":7.9},{"x":76.6,"obs":33.2,"calc":32.8,"diff":8.2},{"x":76.75,"obs":30.3,"calc":31.0,"diff":7.6},{"x":77,"obs":31.1,"calc":30.2,"diff":7.9},{"x":77.5,"obs":29.0,"calc":29.9,"diff":8.0},{"x":78,"obs":31.3,"calc":30.4,"diff":7.7},{"x":78.5,"obs":29.3,"calc":29.9,"diff":8.2},{"x":79,"obs":31.0,"calc":30.1,"diff":7.8},{"x":79.2,"obs":32.5,"calc":32.0,"diff":8.0},{"x":79.35,"obs":29.6,"calc":30.3,"diff":7.6},{"x":79.5,"obs":30.8,"calc":29.9,"diff":7.9},{"x":80,"obs":28.9,"calc":29.8,"diff":8.0}
]
},
"concat": [
{
"title": {"text": "(a)"},
"width": 249, "height": 200,
"data": {"name": "a"},
"layer": [
{"mark": {"type": "point", "filled": false, "size": 150, "strokeWidth": 1.5},
 "encoding": {"x": {"field": "x", "type": "quantitative", "scale": {"domain": [10, 80], "nice": false}, "title": "2θ (Degree)"}, "y": {"field": "obs", "type": "quantitative", "scale": {"domain": [0, 100], "nice": false, "zero": false}, "title": "Intensity (arb. unit)"},
  "color": {"datum": "Yobs", "type": "nominal", "scale": {"domain": ["Yobs", "Ycalc", "Yobs-Ycalc", "Braggs_Position"], "range": ["#111111", "#ff3030", "#6d9ae6", "#5fe05f"]}, "legend": {"orient": "top-right", "offset": 3, "title": null}},
  "shape": {"datum": "Yobs", "type": "nominal", "scale": {"domain": ["Yobs", "Ycalc", "Yobs-Ycalc", "Braggs_Position"], "range": ["M-0.5,-0.5H0.5V0.5H-0.5ZM-0.5,-0.5L0.5,0.5M-0.5,0.5L0.5,-0.5M0,-0.5V0.5", "stroke", "stroke", "M0,-0.5V0.5"]}, "legend": {"orient": "top-right", "offset": 3, "title": null}}}},
{"mark": {"type": "line", "color": "#ff2020", "strokeWidth": 1.3}, "encoding": {"x": {"field": "x", "type": "quantitative", "title": "2θ (Degree)"}, "y": {"field": "calc", "type": "quantitative", "title": "Intensity (arb. unit)"}}},
{"mark": {"type": "line", "color": "#5b8de6", "strokeWidth": 0.9}, "encoding": {"x": {"field": "x", "type": "quantitative", "title": "2θ (Degree)"}, "y": {"field": "diff", "type": "quantitative", "title": "Intensity (arb. unit)"}}},
{"data": {"name": "bragg"}, "mark": {"type": "tick", "orient": "vertical", "size": 5, "thickness": 1.3, "color": "#5fe05f"}, "encoding": {"x": {"field": "x", "type": "quantitative", "title": "2θ (Degree)"}, "y": {"datum": 14.8, "type": "quantitative", "title": "Intensity (arb. unit)"}}},
{"data": {"values": [{"chi2": 1.02}]}, "mark": {"type": "rect", "color": "#1ff21f"}, "encoding": {"x": {"datum": 30.4, "type": "quantitative", "title": "2θ (Degree)"}, "x2": {"datum": 46.7}, "y": {"datum": 97, "type": "quantitative", "title": "Intensity (arb. unit)"}, "y2": {"datum": 75}}},
{"data": {"values": [{"chi2": 1.02}]}, "mark": {"type": "text", "align": "left", "baseline": "top", "font": "Liberation Serif", "fontWeight": "bold", "fontSize": 14, "color": "#2626c8", "lineHeight": 23, "text": ["Gd₂O₃", "χ² = 1.02"]}, "encoding": {"x": {"datum": 31.4, "type": "quantitative", "title": "2θ (Degree)"}, "y": {"datum": 95.5, "type": "quantitative", "title": "Intensity (arb. unit)"}}}
]
},
{
"title": {"text": "(b)"},
"width": 249, "height": 200,
"data": {"name": "b"},
"layer": [
{"mark": {"type": "point", "filled": false, "size": 150, "strokeWidth": 1.5},
 "encoding": {"x": {"field": "x", "type": "quantitative", "scale": {"domain": [10, 80], "nice": false}, "title": "2θ (Degree)"}, "y": {"field": "obs", "type": "quantitative", "scale": {"domain": [0, 100], "nice": false, "zero": false}, "title": "Intensity (arb. unit)"},
  "color": {"datum": "Yobs", "type": "nominal", "scale": {"domain": ["Yobs", "Yalc", "Yobs-Yalc", "Braggs_Position"], "range": ["#111111", "#ff3030", "#6d9ae6", "#5fe05f"]}, "legend": {"orient": "top-right", "offset": 3, "title": null}},
  "shape": {"datum": "Yobs", "type": "nominal", "scale": {"domain": ["Yobs", "Yalc", "Yobs-Yalc", "Braggs_Position"], "range": ["M-0.5,-0.5H0.5V0.5H-0.5ZM-0.5,-0.5L0.5,0.5M-0.5,0.5L0.5,-0.5M0,-0.5V0.5", "stroke", "stroke", "M0,-0.5V0.5"]}, "legend": {"orient": "top-right", "offset": 3, "title": null}}}},
{"mark": {"type": "line", "color": "#ff2020", "strokeWidth": 1.3}, "encoding": {"x": {"field": "x", "type": "quantitative", "title": "2θ (Degree)"}, "y": {"field": "calc", "type": "quantitative", "title": "Intensity (arb. unit)"}}},
{"mark": {"type": "line", "color": "#5b8de6", "strokeWidth": 0.9}, "encoding": {"x": {"field": "x", "type": "quantitative", "title": "2θ (Degree)"}, "y": {"field": "diff", "type": "quantitative", "title": "Intensity (arb. unit)"}}},
{"data": {"name": "bragg"}, "mark": {"type": "tick", "orient": "vertical", "size": 5, "thickness": 1.3, "color": "#5fe05f"}, "encoding": {"x": {"field": "x", "type": "quantitative", "title": "2θ (Degree)"}, "y": {"datum": 14.7, "type": "quantitative", "title": "Intensity (arb. unit)"}}},
{"data": {"values": [{"chi2": 1.23}]}, "mark": {"type": "rect", "color": "#1ff21f"}, "encoding": {"x": {"datum": 30.6, "type": "quantitative", "title": "2θ (Degree)"}, "x2": {"datum": 51.4}, "y": {"datum": 97.5, "type": "quantitative", "title": "Intensity (arb. unit)"}, "y2": {"datum": 75}}},
{"data": {"values": [{"chi2": 1.23}]}, "mark": {"type": "text", "align": "left", "baseline": "top", "font": "Liberation Serif", "fontWeight": "bold", "fontSize": 14, "color": "#2626c8", "lineHeight": 23, "text": ["Gd₂O₃:Eu³⁺", "χ² = 1.23"]}, "encoding": {"x": {"datum": 31.6, "type": "quantitative", "title": "2θ (Degree)"}, "y": {"datum": 96, "type": "quantitative", "title": "Intensity (arb. unit)"}}}
]
},
{
"title": {"text": "(c)"},
"width": 249, "height": 200,
"data": {"name": "c"},
"layer": [
{"mark": {"type": "point", "filled": false, "size": 150, "strokeWidth": 1.5},
 "encoding": {"x": {"field": "x", "type": "quantitative", "scale": {"domain": [10, 80], "nice": false}, "title": "2θ (Degree)"}, "y": {"field": "obs", "type": "quantitative", "scale": {"domain": [0, 100], "nice": false, "zero": false}, "title": "Intensity (arb. unit)"},
  "color": {"datum": "Yobs", "type": "nominal", "scale": {"domain": ["Yobs", "Ycalc", "Yobs-Ycalc", "Braggs_Position"], "range": ["#111111", "#ff3030", "#6d9ae6", "#5fe05f"]}, "legend": {"orient": "top-right", "offset": 3, "title": null}},
  "shape": {"datum": "Yobs", "type": "nominal", "scale": {"domain": ["Yobs", "Ycalc", "Yobs-Ycalc", "Braggs_Position"], "range": ["M-0.5,-0.5H0.5V0.5H-0.5ZM-0.5,-0.5L0.5,0.5M-0.5,0.5L0.5,-0.5M0,-0.5V0.5", "stroke", "stroke", "M0,-0.5V0.5"]}, "legend": {"orient": "top-right", "offset": 3, "title": null}}}},
{"mark": {"type": "line", "color": "#ff2020", "strokeWidth": 1.3}, "encoding": {"x": {"field": "x", "type": "quantitative", "title": "2θ (Degree)"}, "y": {"field": "calc", "type": "quantitative", "title": "Intensity (arb. unit)"}}},
{"mark": {"type": "line", "color": "#5b8de6", "strokeWidth": 0.9}, "encoding": {"x": {"field": "x", "type": "quantitative", "title": "2θ (Degree)"}, "y": {"field": "diff", "type": "quantitative", "title": "Intensity (arb. unit)"}}},
{"data": {"name": "bragg"}, "mark": {"type": "tick", "orient": "vertical", "size": 5, "thickness": 1.3, "color": "#5fe05f"}, "encoding": {"x": {"field": "x", "type": "quantitative", "title": "2θ (Degree)"}, "y": {"datum": 18.3, "type": "quantitative", "title": "Intensity (arb. unit)"}}},
{"data": {"values": [{"chi2": 1.19}]}, "mark": {"type": "rect", "color": "#1ff21f"}, "encoding": {"x": {"datum": 30.7, "type": "quantitative", "title": "2θ (Degree)"}, "x2": {"datum": 52}, "y": {"datum": 98.5, "type": "quantitative", "title": "Intensity (arb. unit)"}, "y2": {"datum": 75.5}}},
{"data": {"values": [{"chi2": 1.19}]}, "mark": {"type": "text", "align": "left", "baseline": "top", "font": "Liberation Serif", "fontWeight": "bold", "fontSize": 14, "color": "#2626c8", "lineHeight": 23, "text": ["Gd₂O₃:Er³⁺", "χ² = 1.19"]}, "encoding": {"x": {"datum": 31.6, "type": "quantitative", "title": "2θ (Degree)"}, "y": {"datum": 97, "type": "quantitative", "title": "Intensity (arb. unit)"}}}
]
},
{
"title": {"text": "(d)"},
"width": 249, "height": 200,
"data": {"name": "d"},
"layer": [
{"mark": {"type": "point", "filled": false, "size": 150, "strokeWidth": 1.5},
 "encoding": {"x": {"field": "x", "type": "quantitative", "scale": {"domain": [10, 80], "nice": false}, "title": "2θ (Degree)"}, "y": {"field": "obs", "type": "quantitative", "scale": {"domain": [0, 100], "nice": false, "zero": false}, "title": "Intensity (arb. unit)"},
  "color": {"datum": "Yobs", "type": "nominal", "scale": {"domain": ["Yobs", "Ycalc", "Yobs-Ycalc", "Braggs_Position"], "range": ["#111111", "#ff3030", "#6d9ae6", "#5fe05f"]}, "legend": {"orient": "top-right", "offset": 3, "title": null}},
  "shape": {"datum": "Yobs", "type": "nominal", "scale": {"domain": ["Yobs", "Ycalc", "Yobs-Ycalc", "Braggs_Position"], "range": ["M-0.5,-0.5H0.5V0.5H-0.5ZM-0.5,-0.5L0.5,0.5M-0.5,0.5L0.5,-0.5M0,-0.5V0.5", "stroke", "stroke", "M0,-0.5V0.5"]}, "legend": {"orient": "top-right", "offset": 3, "title": null}}}},
{"mark": {"type": "line", "color": "#ff2020", "strokeWidth": 1.3}, "encoding": {"x": {"field": "x", "type": "quantitative", "title": "2θ (Degree)"}, "y": {"field": "calc", "type": "quantitative", "title": "Intensity (arb. unit)"}}},
{"mark": {"type": "line", "color": "#5b8de6", "strokeWidth": 0.9}, "encoding": {"x": {"field": "x", "type": "quantitative", "title": "2θ (Degree)"}, "y": {"field": "diff", "type": "quantitative", "title": "Intensity (arb. unit)"}}},
{"data": {"name": "bragg"}, "mark": {"type": "tick", "orient": "vertical", "size": 5, "thickness": 1.3, "color": "#5fe05f"}, "encoding": {"x": {"field": "x", "type": "quantitative", "title": "2θ (Degree)"}, "y": {"datum": 15, "type": "quantitative", "title": "Intensity (arb. unit)"}}},
{"data": {"values": [{"chi2": 1.38}]}, "mark": {"type": "rect", "color": "#1ff21f"}, "encoding": {"x": {"datum": 30.6, "type": "quantitative", "title": "2θ (Degree)"}, "x2": {"datum": 55.9}, "y": {"datum": 97.5, "type": "quantitative", "title": "Intensity (arb. unit)"}, "y2": {"datum": 78.5}}},
{"data": {"values": [{"chi2": 1.38}]}, "mark": {"type": "text", "align": "left", "baseline": "top", "font": "Liberation Serif", "fontWeight": "bold", "fontSize": 12, "color": "#2626c8", "lineHeight": 19, "text": ["Gd₂O₃:Eu³⁺/Eu³⁺", "χ² = 1.38"]}, "encoding": {"x": {"datum": 30.9, "type": "quantitative", "title": "2θ (Degree)"}, "y": {"datum": 96, "type": "quantitative", "title": "Intensity (arb. unit)"}}}
]
}
],
"config": {
"font": "Liberation Sans",
"view": {"stroke": "#000000", "strokeWidth": 2},
"axisX": {"domain": false, "grid": false, "tickCount": 7, "tickColor": "#000000", "tickWidth": 1.5, "tickSize": -4, "labelFont": "Liberation Sans", "labelFontWeight": "bold", "labelFontSize": 8.5, "labelColor": "#222222", "labelPadding": 5, "titleFont": "Liberation Sans", "titleFontWeight": "bold", "titleFontSize": 15, "titleColor": "#111111", "titlePadding": 12},
"axisY": {"domain": false, "grid": false, "ticks": false, "labels": false, "titleFont": "Liberation Sans", "titleFontWeight": "bold", "titleFontSize": 15, "titleColor": "#111111", "titlePadding": 13},
"legend": {"strokeColor": "#9a9a9a", "fillColor": "#ffffff", "padding": 3, "labelFont": "Liberation Sans", "labelFontWeight": "bold", "labelFontSize": 8, "labelColor": "#111111", "symbolSize": 100, "symbolStrokeWidth": 1.4, "rowPadding": 1.5, "labelOffset": 5, "cornerRadius": 0},
"title": {"font": "Liberation Serif", "fontSize": 24, "fontWeight": "bold", "color": "#f01010", "anchor": "start", "frame": "group", "dx": -43, "dy": 17, "offset": 0, "baseline": "alphabetic"}
}
}
